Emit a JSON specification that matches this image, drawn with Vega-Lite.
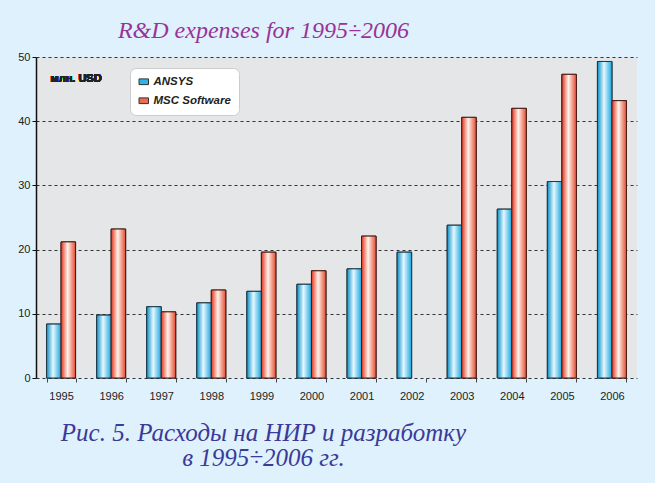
{
  "$schema": "https://vega.github.io/schema/vega-lite/v6.json",
  "width": 601,
  "height": 321,
  "autosize": {"type": "none"},
  "padding": {"left": 36, "top": 57, "right": 18, "bottom": 105},
  "background": "#dff1fc",
  "title": {
    "text": "R&D expenses for 1995÷2006",
    "font": "Liberation Serif",
    "fontStyle": "italic",
    "fontWeight": "normal",
    "fontSize": 24,
    "color": "#993399",
    "anchor": "middle",
    "dx": -73,
    "offset": 8
  },
  "data": {
    "values": [
      {"year": "1995", "series": "ANSYS", "value": 8.4},
      {"year": "1995", "series": "MSC Software", "value": 21.2},
      {"year": "1996", "series": "ANSYS", "value": 9.8},
      {"year": "1996", "series": "MSC Software", "value": 23.2},
      {"year": "1997", "series": "ANSYS", "value": 11.1},
      {"year": "1997", "series": "MSC Software", "value": 10.3},
      {"year": "1998", "series": "ANSYS", "value": 11.7},
      {"year": "1998", "series": "MSC Software", "value": 13.7},
      {"year": "1999", "series": "ANSYS", "value": 13.5},
      {"year": "1999", "series": "MSC Software", "value": 19.6},
      {"year": "2000", "series": "ANSYS", "value": 14.6},
      {"year": "2000", "series": "MSC Software", "value": 16.7},
      {"year": "2001", "series": "ANSYS", "value": 17.0},
      {"year": "2001", "series": "MSC Software", "value": 22.1},
      {"year": "2002", "series": "ANSYS", "value": 19.6},
      {"year": "2003", "series": "ANSYS", "value": 23.8},
      {"year": "2003", "series": "MSC Software", "value": 40.6},
      {"year": "2004", "series": "ANSYS", "value": 26.3},
      {"year": "2004", "series": "MSC Software", "value": 42.0},
      {"year": "2005", "series": "ANSYS", "value": 30.6},
      {"year": "2005", "series": "MSC Software", "value": 47.3},
      {"year": "2006", "series": "ANSYS", "value": 49.3},
      {"year": "2006", "series": "MSC Software", "value": 43.2}
    ]
  },
  "config": {
    "view": {"fill": "#e5e6e8", "stroke": null},
    "axis": {"labelFont": "Liberation Sans", "labelFontSize": 11, "labelColor": "#222222"}
  },
  "encoding": {
    "x": {
      "field": "year",
      "type": "nominal",
      "scale": {"paddingInner": 0.42, "paddingOuter": 0.21},
      "axis": {
        "labelAngle": 0,
        "labelPadding": 8,
        "domain": false,
        "tickColor": "#444444",
        "tickSize": 4,
        "tickBand": "extent",
        "title": ["Рис. 5. Расходы на НИР и разработку", "в 1995÷2006 гг."],
        "titleFont": "Liberation Serif",
        "titleFontStyle": "italic",
        "titleFontWeight": "normal",
        "titleFontSize": 25,
        "titleColor": "#3a3a99",
        "titleX": 227,
        "titleAlign": "center",
        "titlePadding": 19,
        "titleLineHeight": 25
      }
    },
    "y": {
      "field": "value",
      "type": "quantitative",
      "scale": {"domain": [0, 50]},
      "axis": {
        "values": [0, 10, 20, 30, 40, 50],
        "title": null,
        "domainColor": "#111111",
        "domainWidth": 1.5,
        "tickColor": "#111111",
        "tickSize": 4,
        "gridColor": "#333333",
        "gridDash": [3, 3],
        "gridWidth": 1
      }
    },
    "xOffset": {"field": "series", "type": "nominal", "scale": {"paddingInner": 0}}
  },
  "layer": [
    {
      "mark": {"type": "bar", "stroke": "#222222", "strokeWidth": 1},
      "encoding": {
        "color": {
          "field": "series",
          "type": "nominal",
          "scale": {"domain": ["ANSYS", "MSC Software"], "range": ["#2cb6ea", "#f06a50"]},
          "legend": {
            "title": null,
            "orient": "none",
            "legendX": 94,
            "legendY": 11,
            "fillColor": "#ffffff",
            "strokeColor": "#cccccc",
            "cornerRadius": 6,
            "padding": 8,
            "symbolType": "M-1,-0.6H1V0.6H-1Z",
            "symbolSize": 90,
            "symbolStrokeColor": "#333333",
            "symbolStrokeWidth": 1,
            "labelFont": "Liberation Sans",
            "labelFontStyle": "italic",
            "labelFontWeight": "bold",
            "labelFontSize": 11.5,
            "labelColor": "#222222",
            "rowPadding": 6
          }
        }
      }
    },
    {
      "transform": [{"filter": "datum.series === 'ANSYS'"}],
      "mark": {
        "type": "bar",
        "stroke": "#1a3a4a",
        "strokeWidth": 1,
        "fill": {
          "gradient": "linear", "x1": 0, "x2": 1, "y1": 0, "y2": 0,
          "stops": [
            {"offset": 0, "color": "#0a8ec6"},
            {"offset": 0.45, "color": "#e6f8ff"},
            {"offset": 1, "color": "#18a6df"}
          ]
        }
      }
    },
    {
      "transform": [{"filter": "datum.series === 'MSC Software'"}],
      "mark": {
        "type": "bar",
        "stroke": "#4a1a14",
        "strokeWidth": 1,
        "fill": {
          "gradient": "linear", "x1": 0, "x2": 1, "y1": 0, "y2": 0,
          "stops": [
            {"offset": 0, "color": "#e0341e"},
            {"offset": 0.45, "color": "#fff2ea"},
            {"offset": 1, "color": "#e44a30"}
          ]
        }
      }
    },
    {
      "mark": {"type": "text", "text": "млн. USD", "font": "Liberation Sans", "fontWeight": "bold", "fontSize": 11, "align": "left", "dx": 4, "fill": "#222222"},
      "encoding": {
        "x": {"datum": "1995"},
        "y": {"datum": 46.5},
        "xOffset": {"value": 0}
      }
    }
  ]
}
